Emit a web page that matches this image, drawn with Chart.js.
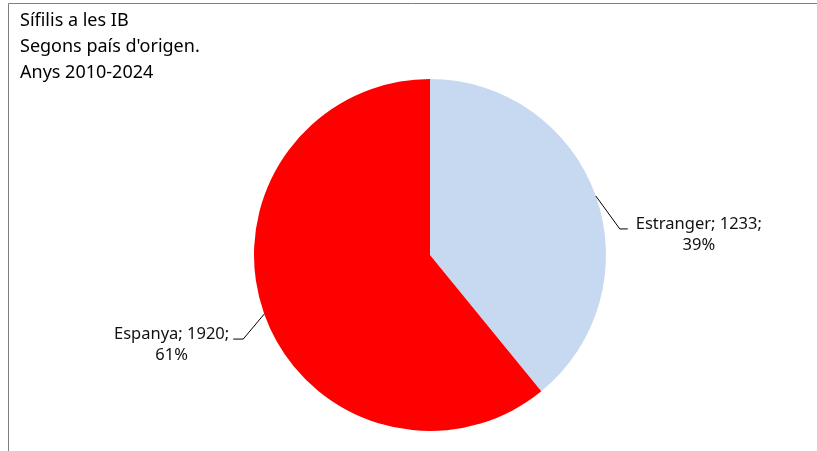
<!DOCTYPE html>
<html>
<head>
<meta charset="utf-8">
<script src="https://cdn.jsdelivr.net/npm/chart.js@4"></script>
<style>
html,body{margin:0;padding:0;background:#fff;}
#wrap{position:relative;width:817px;height:451px;}
</style>
</head>
<body>
<div id="wrap"><canvas id="c" width="817" height="451"></canvas></div>
<script>
const titleLines = ["Sífilis a les IB", "Segons país d'origen.", "Anys 2010-2024"];
const categories = ["Estranger", "Espanya"];
const values = [1233, 1920];
const colors = ["#C6D9F1", "#FF0000"];

const FONT = "'Noto Sans', 'Open Sans', sans-serif";

// label placement offsets (elbow relative to slice edge point), per slice
const labelCfg = [
  {dx: 24, dy: 33, hx: 8, side: 'right'},
  {dx: -21, dy: 25, hx: -10, side: 'left'}
];

const framePlugin = {
  id: 'frame',
  beforeDraw(chart) {
    const ctx = chart.ctx;
    ctx.save();
    ctx.strokeStyle = '#7f7f7f';
    ctx.lineWidth = 1;
    ctx.beginPath();
    ctx.moveTo(817, 3.5);
    ctx.lineTo(8.5, 3.5);
    ctx.lineTo(8.5, 451);
    ctx.stroke();
    ctx.fillStyle = '#000';
    ctx.font = '18px ' + FONT;
    ctx.textBaseline = 'alphabetic';
    ctx.textAlign = 'left';
    titleLines.forEach((t, i) => ctx.fillText(t, 20, 26 + i * 26));
    ctx.restore();
  },
  afterDatasetsDraw(chart) {
    const ctx = chart.ctx;
    const meta = chart.getDatasetMeta(0);
    const total = values.reduce((a, b) => a + b, 0);
    ctx.save();
    ctx.font = '16.5px ' + FONT;
    ctx.fillStyle = '#111';
    ctx.strokeStyle = '#000';
    ctx.lineWidth = 1;
    ctx.textBaseline = 'middle';
    meta.data.forEach((arc, i) => {
      const p = arc.getProps(['x', 'y', 'startAngle', 'endAngle', 'outerRadius'], true);
      const mid = (p.startAngle + p.endAngle) / 2;
      const sx = p.x + Math.cos(mid) * p.outerRadius;
      const sy = p.y + Math.sin(mid) * p.outerRadius;
      const c = labelCfg[i];
      const ex = sx + c.dx, ey = sy + c.dy;
      const hx = ex + c.hx;
      ctx.beginPath();
      ctx.moveTo(sx, sy);
      ctx.lineTo(ex, ey);
      ctx.lineTo(hx, ey);
      ctx.stroke();
      const pct = Math.round(values[i] / total * 100) + '%';
      const line1 = categories[i] + '; ' + values[i] + ';';
      const w1 = ctx.measureText(line1).width;
      let x1;
      if (c.side === 'right') x1 = hx + 8; else x1 = hx - 4 - w1;
      const ly = ey - 5;
      ctx.textAlign = 'left';
      ctx.fillText(line1, x1, ly);
      ctx.textAlign = 'center';
      ctx.fillText(pct, x1 + w1 / 2, ly + 21);
    });
    ctx.restore();
  }
};

new Chart(document.getElementById('c'), {
  type: 'pie',
  data: {
    labels: categories,
    datasets: [{
      data: values,
      backgroundColor: colors,
      borderWidth: 0
    }]
  },
  options: {
    responsive: false,
    animation: false,
    layout: {padding: {top: 79, bottom: 20, left: 254, right: 211}},
    plugins: {
      legend: {display: false},
      title: {display: false},
      tooltip: {enabled: false}
    }
  },
  plugins: [framePlugin]
});
</script>
</body>
</html>
